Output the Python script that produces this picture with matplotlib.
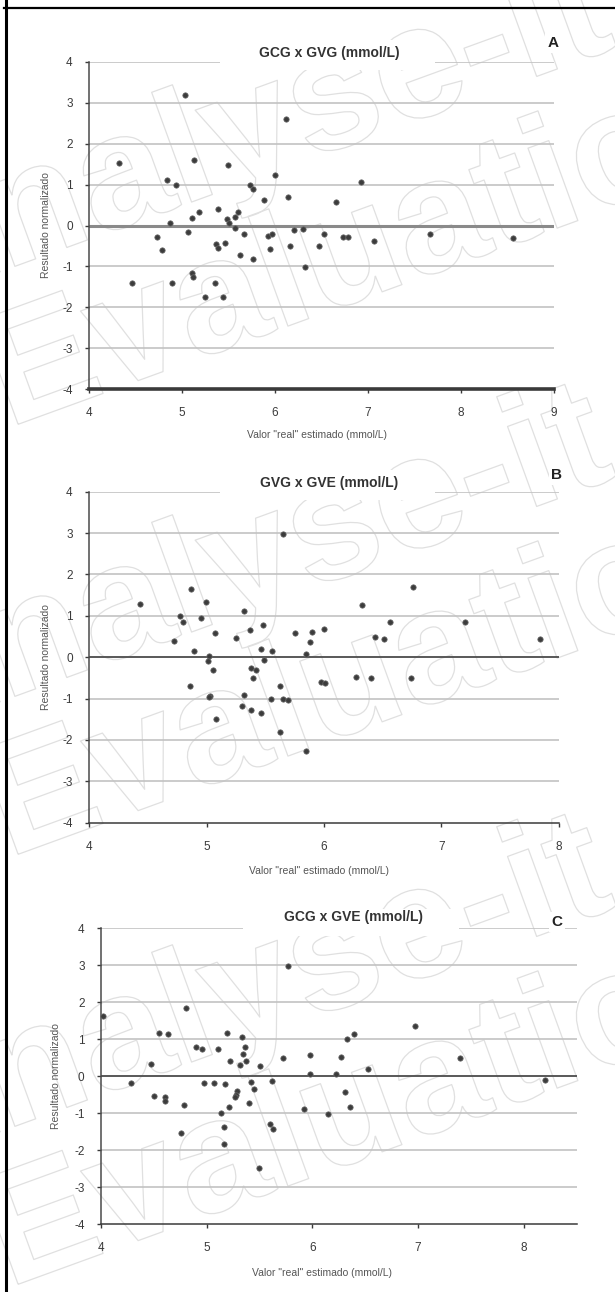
import matplotlib
matplotlib.use("Agg")
import matplotlib.pyplot as plt
import matplotlib.patheffects as pe
from matplotlib.patches import Rectangle
from matplotlib.lines import Line2D

plt.rcParams['font.family'] = ['Liberation Sans', 'DejaVu Sans']

# ---- data ----
# A: GCG x GVG
xa = [5.03, 6.12, 4.32, 5.13, 5.49, 6.00, 4.84, 4.93, 5.73, 5.76,
      5.88, 6.14, 6.66, 5.39, 5.18, 5.10, 5.60, 5.57, 4.87, 5.48,
      5.50, 5.57, 5.06, 4.73, 4.78, 5.67, 5.92, 5.97, 6.20, 6.30,
      6.16, 6.47, 6.53, 5.36, 5.39, 5.46, 5.95, 5.62, 5.76, 6.32,
      5.11, 5.12, 4.46, 4.89, 5.35, 5.24, 5.44, 6.93, 6.73, 6.78,
      7.06, 7.67, 8.56]
ya = [3.19, 2.61, 1.52, 1.60, 1.48, 1.24, 1.11, 0.99, 0.99, 0.90,
      0.63, 0.69, 0.57, 0.40, 0.33, 0.18, 0.32, 0.21, 0.05, 0.15,
      0.05, -0.07, -0.17, -0.29, -0.59, -0.21, -0.25, -0.21, -0.11, -0.08,
      -0.50, -0.49, -0.21, -0.44, -0.55, -0.42, -0.58, -0.73, -0.81, -1.02,
      -1.16, -1.26, -1.41, -1.41, -1.41, -1.75, -1.75, 1.06, -0.28, -0.27,
      -0.39, -0.20, -0.31]

# B: GVG x GVE
xb = [5.65, 4.87, 4.43, 4.99, 5.32, 4.77, 4.80, 4.95, 5.48, 5.07,
      5.25, 5.37, 5.75, 5.90, 6.00, 5.88, 4.72, 4.89, 5.46, 5.56,
      5.85, 5.02, 5.01, 5.49, 5.05, 5.38, 5.42, 5.39, 4.86, 5.62,
      5.97, 6.01, 5.03, 5.02, 5.32, 5.55, 5.65, 5.69, 5.30, 5.38,
      5.46, 5.08, 5.62, 5.85, 6.32, 6.76, 6.56, 7.20, 6.43, 6.51,
      7.84, 6.27, 6.40, 6.74]
yb = [2.97, 1.64, 1.28, 1.33, 1.12, 0.99, 0.85, 0.95, 0.79, 0.58,
      0.46, 0.65, 0.59, 0.60, 0.68, 0.36, 0.40, 0.16, 0.21, 0.14,
      0.08, 0.02, -0.10, -0.07, -0.32, -0.27, -0.32, -0.51, -0.69, -0.70,
      -0.60, -0.62, -0.93, -0.96, -0.91, -1.01, -1.00, -1.04, -1.19, -1.28,
      -1.35, -1.50, -1.81, -2.26, 1.27, 1.70, 0.86, 0.86, 0.48, 0.43,
      0.45, -0.48, -0.50, -0.50]

# C: GCG x GVE
xc = [5.77, 4.02, 4.80, 4.55, 4.63, 5.19, 5.33, 5.36, 4.90, 4.95,
      5.11, 5.34, 4.47, 5.22, 5.37, 5.31, 5.50, 5.72, 5.98, 6.27,
      6.33, 6.39, 5.98, 6.22, 4.28, 4.97, 5.07, 5.17, 5.42, 5.62,
      5.45, 4.50, 4.60, 4.60, 5.29, 5.28, 5.27, 5.40, 5.21, 4.78,
      5.13, 5.92, 6.15, 6.31, 6.36, 5.16, 5.60, 5.63, 4.76, 5.16,
      5.49, 6.53, 6.97, 7.40, 8.20]
yc = [2.98, 1.64, 1.84, 1.18, 1.13, 1.18, 1.07, 0.79, 0.79, 0.73,
      0.73, 0.60, 0.33, 0.42, 0.42, 0.31, 0.27, 0.49, 0.57, 0.51,
      1.02, 1.13, 0.07, 0.07, -0.18, -0.18, -0.18, -0.20, -0.16, -0.12,
      -0.33, -0.53, -0.57, -0.66, -0.39, -0.50, -0.57, -0.72, -0.83, -0.78,
      -0.98, -0.89, -1.01, -0.42, -0.83, -1.38, -1.28, -1.42, -1.54, -1.82,
      -2.49, 0.20, 1.37, 0.49, -0.11]

titles = ["GCG x GVG (mmol/L)", "GVG x GVE (mmol/L)", "GCG x GVE (mmol/L)"]
letters = ["A", "B", "C"]
xlims = [(4, 9), (4, 8), (4, 8.5)]
xticks = [[4, 5, 6, 7, 8, 9], [4, 5, 6, 7, 8], [4, 5, 6, 7, 8]]
yticks = [-4, -3, -2, -1, 0, 1, 2, 3, 4]
ylab = "Resultado normalizado"
xlab = 'Valor "real" estimado (mmol/L)'

W, H = 615, 1292
fig = plt.figure(figsize=(W / 100, H / 100), dpi=100)

# axes boxes in pixels: left, right, top, bottom
boxes = [(89.4, 553.7, 61.7, 389.3),
         (89.4, 558.8, 491.7, 822.7),
         (101.2, 576.5, 928.3, 1224.3)]
# per-panel layout tweaks (axes fraction)
title_pos = [(0.516, 1.026), (0.510, 1.026), (0.530, 1.038)]
title_gap = [(0.281, 0.744), (0.278, 0.736), (0.298, 0.753)]
letter_pos = [(0.998, 1.057), (0.996, 1.050), (0.959, 1.021)]
ylab_x = [-0.082, -0.081, -0.085]
xlab_pos = [(0.49, -0.125), (0.49, -0.132), (0.464, -0.148)]
zero_style = [dict(color='#8a8a8a', lw=2.2), dict(color='#3a3a3a', lw=1.1), dict(color='#3a3a3a', lw=1.1)]
bottom_lw = [2.6, 1.1, 1.1]

data = [(xa, ya), (xb, yb), (xc, yc)]

# faint outlined watermark, repeated for each panel (drawn first, behind everything)
for k in range(3):
    off = k * 430
    for txt, (px, py) in [("Analyse-it", (-105, 310)), ("Evaluation", (8, 428))]:
        fig.text(px / W, 1 - (py + off) / H, txt, fontsize=116, fontweight='bold',
                 rotation=20, rotation_mode='anchor', ha='left', va='baseline',
                 color='none', zorder=-1,
                 path_effects=[pe.Stroke(linewidth=0.9, foreground='#e0e0e0')])

for i in range(3):
    l, r, t, b = boxes[i]
    ax = fig.add_axes([l / W, 1 - b / H, (r - l) / W, (b - t) / H])
    ax.patch.set_alpha(0)
    ax.set_xlim(*xlims[i])
    ax.set_ylim(-4, 4)
    ax.set_xticks(xticks[i])
    ax.set_yticks(yticks)
    ax.set_yticklabels([str(v) for v in yticks])
    for s in ['top', 'right']:
        ax.spines[s].set_visible(False)
    ax.spines['left'].set_color('#4a4a4a')
    ax.spines['left'].set_linewidth(1.1)
    ax.spines['bottom'].set_color('#3a3a3a')
    ax.spines['bottom'].set_linewidth(bottom_lw[i])
    for yv in yticks[1:]:
        ax.axhline(yv, color='#c2c2c2', lw=1.2, zorder=1)
    ax.axhline(0, zorder=2, **zero_style[i])
    ax.tick_params(axis='both', labelsize=8.5, colors='#3a3a3a', length=3, width=1)
    ax.tick_params(axis='x', pad=10, direction='out')
    ax.tick_params(axis='y', pad=9)

    x, y = data[i]
    ax.scatter(x, y, s=15, color='#3c3c3c', edgecolors='#6a6a6a', linewidths=0.5,
               zorder=4, clip_on=False)

    # white gap in the top gridline behind the title
    g0, g1 = title_gap[i]
    ax.add_patch(Rectangle((g0, 0.975), g1 - g0, 0.09, transform=ax.transAxes,
                           facecolor='white', edgecolor='none', zorder=5, clip_on=False))
    ax.text(title_pos[i][0], title_pos[i][1], titles[i], transform=ax.transAxes,
            ha='center', va='center', fontsize=10, fontweight='bold', color='#333333', zorder=6)
    ax.text(letter_pos[i][0], letter_pos[i][1], letters[i], transform=ax.transAxes,
            ha='center', va='center', fontsize=11, fontweight='bold', color='#222222', zorder=6,
            bbox=dict(facecolor='white', edgecolor='none', pad=2))

    ax.set_ylabel(ylab, fontsize=7.5, color='#555555')
    ax.yaxis.set_label_coords(ylab_x[i], 0.5)
    ax.set_xlabel(xlab, fontsize=7.5, color='#555555')
    ax.xaxis.set_label_coords(*xlab_pos[i])

# black frame on the left and top edges
fig.add_artist(Line2D([5.5 / W, 5.5 / W], [0, 1], color='black', lw=2.2))
fig.add_artist(Line2D([4 / W, 1], [1 - 8 / H, 1 - 8 / H], color='black', lw=1.6))

fig.savefig("out.png", dpi=100, facecolor='white')
